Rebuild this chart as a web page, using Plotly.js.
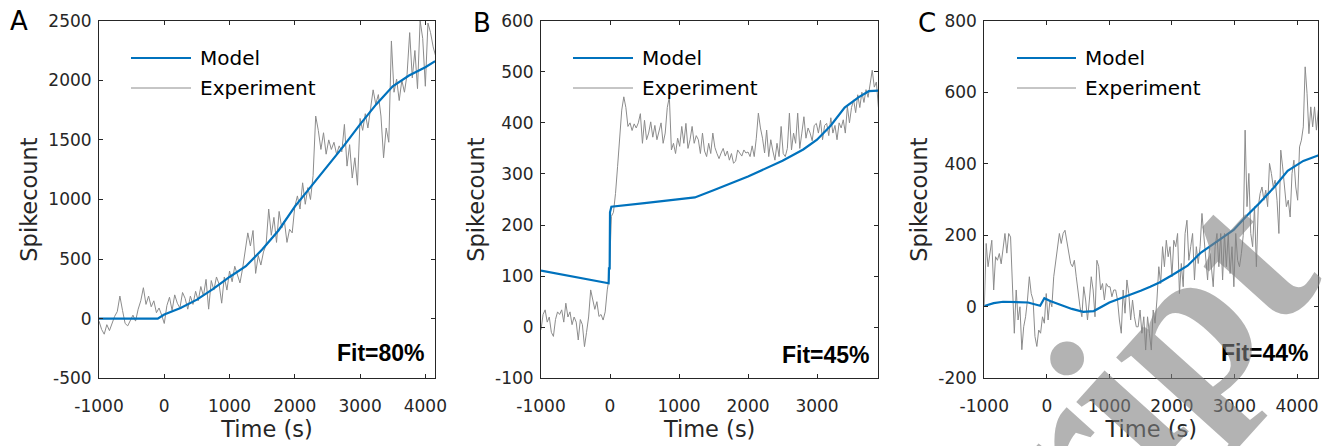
<!DOCTYPE html>
<html><head><meta charset="utf-8">
<script src="https://cdn.plot.ly/plotly-3.0.1.min.js"></script>
<style>html,body{margin:0;padding:0;background:#fff}#chart{width:1326px;height:446px}</style>
</head><body><div id="chart"></div>
<script>
// ---------- DATA ----------
const seriesNames = ['Model', 'Experiment'];
const panelLetters = ['A', 'B', 'C'];
const fitLabels = ['Fit=80%', 'Fit=45%', 'Fit=44%'];
const xTitle = 'Time (s)';
const yTitle = 'Spikecount';
const watermarkText = 'ript';

// Panel A
const modelA_t = [-1000,-500,-100,0,250,500,750,1000,1250,1500,1750,2000,2250,2500,2750,3000,3250,3500,3750,4000,4150];
const modelA_y = [0,0,0,35,90,160,250,350,440,580,740,940,1110,1280,1450,1630,1800,1950,2040,2110,2160];
const expA_t0 = -1000, expA_dt = 40;
const expA_y = [-20,-90,-130,-50,-100,-30,20,60,190,70,-40,-60,-10,30,-20,80,150,260,120,190,
  100,150,50,90,30,-40,110,180,70,200,130,90,220,170,80,190,120,230,150,270,
  190,330,80,320,240,350,290,130,350,240,400,310,440,360,300,420,560,720,610,740,
  380,530,450,560,620,920,700,850,640,900,760,820,640,750,720,940,1030,920,1140,960,
  1100,1000,1200,1700,1580,1420,1560,1380,1500,1420,1480,1380,1450,1400,1630,1280,1460,1180,1350,1120,
  1680,1580,1720,1600,1760,1920,1800,1880,1700,1350,1600,1480,2330,1900,2010,1830,2000,1900,2050,2400,
  2020,2250,1930,2500,2350,1950,2480,2400,2280,2200];

// Panel B
const modelB_t = [-1000,-500,-60,-20,-15,-5,0,20,500,1000,1230,1500,2000,2500,2800,3000,3200,3400,3600,3750,3890];
const modelB_y = [111,98,86,86,115,115,225,236,243,250,254,268,295,326,348,367,395,430,450,462,463];
const expB_t0 = -1000, expB_dt = 30;
const expB_y = [-5,25,34,10,20,-10,-18,15,30,25,34,10,47,20,30,5,20,10,-25,15,
  5,-38,-10,20,73,55,35,50,21,25,14,30,73,99,217,225,262,315,367,425,
  451,430,393,400,385,398,390,400,418,360,405,367,380,402,372,395,367,385,400,360,
  380,430,451,347,360,340,370,354,393,360,399,350,367,393,360,375,367,340,380,345,
  334,360,340,380,352,340,330,341,350,335,345,327,340,321,325,347,340,335,347,341,
  343,334,355,334,370,419,390,370,341,386,334,367,345,327,360,334,393,340,334,350,
  419,347,380,360,419,350,380,412,370,390,380,365,395,399,380,405,367,395,399,375,
  410,380,395,367,400,390,406,380,432,400,430,445,420,455,430,460,440,465,450,477,
  503,470,480,430];

// Panel C
const modelC_t = [-1000,-850,-700,-500,-300,-107,-40,53,200,400,582,750,1000,1250,1500,1653,1800,2000,2250,2453,2700,2986,3200,3400,3638,3850,4100,4346];
const modelC_y = [2,10,14,14,12,3,24,16,6,-6,-14,-12,12,28,45,56,68,88,115,150,180,215,255,290,335,380,408,424];
const expC_t0 = -1000, expC_dt = 30;
const expC_y = [0,177,112,150,186,47,140,130,149,120,168,205,150,205,195,56,-74,47,-37,0,
  -120,-56,-28,19,84,37,19,-83,-111,-65,-74,-28,-46,37,-37,19,0,84,121,158,
  205,177,205,214,186,149,121,112,130,84,37,0,-28,56,19,-37,19,84,47,-28,
  130,112,47,65,19,65,56,56,28,47,47,19,-37,-74,47,-18,75,37,-37,19,
  -28,-56,-56,-9,-74,-28,-121,-28,-74,-121,-9,-46,19,112,65,168,112,186,140,168,
  84,186,168,205,37,121,56,205,242,130,168,205,75,168,121,168,261,205,130,75,
  168,112,56,168,205,112,205,75,205,112,205,93,168,56,205,130,112,149,200,494,
  280,373,205,168,280,112,280,317,335,298,326,280,401,373,335,354,298,205,438,391,
  335,280,298,251,373,410,335,298,447,466,503,671,597,484,559,503,559,494,550];

// Tick values / labels
const xTickVals = [-1000,0,1000,2000,3000,4000];
const xTickText = ['-1000','0','1000','2000','3000','4000'];
const yTickValsA = [-500,0,500,1000,1500,2000,2500];
const yTickTextA = ['-500','0','500','1000','1500','2000','2500'];
const yTickValsB = [-100,0,100,200,300,400,500,600];
const yTickTextB = ['-100','0','100','200','300','400','500','600'];
const yTickValsC = [-200,0,200,400,600,800];
const yTickTextC = ['-200','0','200','400','600','800'];

// ---------- LAYOUT / STYLE ----------
const W = 1326, H = 446;
const px = v => v / W;
const py = v => 1 - v / H;
const MODEL_COLOR = '#0072BD';
const EXP_COLOR = '#8c8c8c';
const AX_COLOR = '#262626';
const FONT = 'DejaVu Sans';

const panels = [
  {xd:[99,435],    yd:[20.7,378.3], xr:[-1000,4148], yr:[-500,2500], yv:yTickValsA, yt:yTickTextA,
   mt:modelA_t, my:modelA_y, et0:expA_t0, edt:expA_dt, ey:expA_y,
   letter:[18.5,21], leg:[131,191,198], fit:[427,353]},
  {xd:[541,878.3], yd:[20.7,378.3], xr:[-1000,3888], yr:[-100,600], yv:yTickValsB, yt:yTickTextB,
   mt:modelB_t, my:modelB_y, et0:expB_t0, edt:expB_dt, ey:expB_y,
   letter:[481.5,23], leg:[573,633,640], fit:[872,355]},
  {xd:[984.3,1318.3], yd:[20.7,378.3], xr:[-1000,4340], yr:[-200,800], yv:yTickValsC, yt:yTickTextC,
   mt:modelC_t, my:modelC_y, et0:expC_t0, edt:expC_dt, ey:expC_y,
   letter:[926.5,23], leg:[1017,1076,1083], fit:[1311,353]}
];

const traces = [];
const layout = {
  width: W, height: H,
  margin: {l:0, r:0, t:0, b:0},
  paper_bgcolor: '#fff', plot_bgcolor: '#fff',
  showlegend: false,
  font: {family: FONT, color: AX_COLOR},
  shapes: [], annotations: []
};

const axBase = {
  showline: true, linecolor: AX_COLOR, linewidth: 1, mirror: 'ticks',
  ticks: 'inside', ticklen: 4, tickwidth: 1, tickcolor: AX_COLOR,
  showgrid: false, zeroline: false, tickmode: 'array',
  tickfont: {family: FONT, size: 17, color: AX_COLOR}, automargin: false
};

panels.forEach((p, i) => {
  const n = i === 0 ? '' : String(i + 1);
  const xa = 'x' + n, ya = 'y' + n;
  traces.push({
    type: 'scatter', mode: 'lines', name: seriesNames[1],
    x0: p.et0, dx: p.edt, y: p.ey, xaxis: xa, yaxis: ya,
    line: {color: EXP_COLOR, width: 1}, hoverinfo: 'skip'
  });
  traces.push({
    type: 'scatter', mode: 'lines', name: seriesNames[0],
    x: p.mt, y: p.my, xaxis: xa, yaxis: ya,
    line: {color: MODEL_COLOR, width: 2.2}, hoverinfo: 'skip'
  });
  layout['xaxis' + n] = Object.assign({}, axBase, {
    domain: [px(p.xd[0]), px(p.xd[1])], anchor: ya, range: p.xr,
    tickvals: xTickVals, ticktext: xTickText, ticklabelstandoff: 12,
    title: {text: xTitle, font: {family: FONT, size: 22.5, color: AX_COLOR}, standoff: 6}
  });
  layout['yaxis' + n] = Object.assign({}, axBase, {
    domain: [py(p.yd[1]), py(p.yd[0])], anchor: xa, range: p.yr,
    tickvals: p.yv, ticktext: p.yt, ticklabelstandoff: 3,
    title: {text: yTitle, font: {family: FONT, size: 22.5, color: AX_COLOR}, standoff: 4}
  });
  // panel letter
  layout.annotations.push({
    text: panelLetters[i], xref: 'paper', yref: 'paper', x: px(p.letter[0]), y: py(p.letter[1]),
    xanchor: 'center', yanchor: 'middle', showarrow: false,
    font: {family: FONT, size: 26, color: '#000'}
  });
  // legend (inside axes, no box)
  const legY = [58, 88];
  [0, 1].forEach(k => {
    layout.shapes.push({
      type: 'line', xref: 'paper', yref: 'paper',
      x0: px(p.leg[0]), x1: px(p.leg[1]), y0: py(legY[k]), y1: py(legY[k]),
      line: {color: k === 0 ? MODEL_COLOR : EXP_COLOR, width: k === 0 ? 2.2 : 1}
    });
    layout.annotations.push({
      text: seriesNames[k], xref: 'paper', yref: 'paper', x: px(p.leg[2]), y: py(legY[k]),
      xanchor: 'left', yanchor: 'middle', showarrow: false,
      font: {family: FONT, size: 20, color: '#000'}
    });
  });
  // fit label
  layout.annotations.push({
    text: '<b>' + fitLabels[i] + '</b>', xref: 'paper', yref: 'paper', x: px(p.fit[0]), y: py(p.fit[1]),
    xanchor: 'right', yanchor: 'middle', showarrow: false,
    font: {family: 'Liberation Sans', size: 23, color: '#000'}
  });
});

// watermark
layout.annotations.push({
  text: '<b>' + watermarkText + '</b>', xref: 'paper', yref: 'paper', x: px(1147), y: py(364),
  xanchor: 'center', yanchor: 'middle', showarrow: false, textangle: -48,
  font: {family: 'Liberation Serif', size: 225, color: 'rgba(128,128,128,0.6)'}
});

Plotly.newPlot('chart', traces, layout, {displayModeBar: false, staticPlot: true});
</script>
</body></html>
